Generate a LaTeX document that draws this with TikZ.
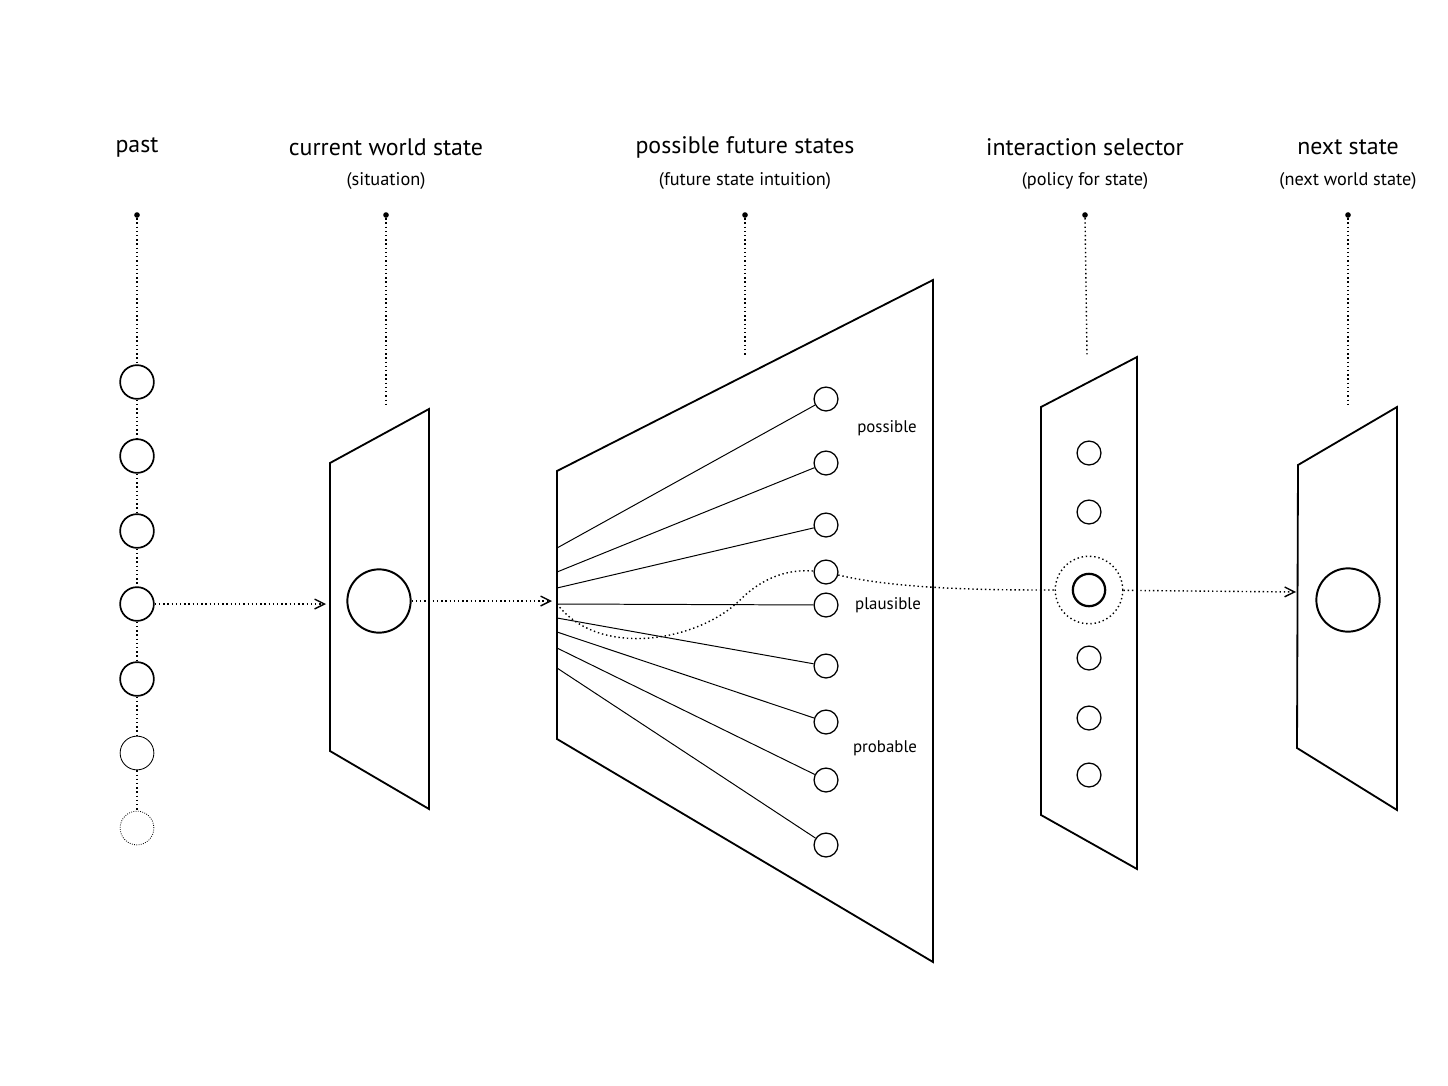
\documentclass[tikz,border=0pt]{standalone}
\usepackage{fontspec}
\setmainfont{PT Sans}
\usetikzlibrary{arrows.meta}
\begin{document}
\begin{tikzpicture}[x=0.025cm,y=-0.025cm,>={Straight Barb[open,length=7pt,width=7pt]},
  ttl/.style={font=\fontsize{17}{19}\selectfont},
  sub/.style={font=\fontsize{13}{15}\selectfont},
  lbl/.style={font=\fontsize{12}{14}\selectfont},
  pt/.style={circle,fill,inner sep=0pt,minimum size=4pt},
  st/.style={circle,draw,line width=1.2pt,inner sep=0pt,minimum size=24pt},
  sm/.style={circle,draw,line width=0.9pt,inner sep=0pt,minimum size=17pt},
  big/.style={circle,draw,line width=1.4pt,inner sep=0pt,minimum size=45pt},
  panel/.style={line width=1.3pt,line join=miter},
  dots/.style={dotted,line width=1pt}]

\useasboundingbox (0,0) rectangle (1448,1086);

% headings
\foreach \name/\x/\t/\s in {pa/137/past/{},cw/386/current world state/(situation),
  fu/745/possible future states/(future state intuition),
  se/1085/interaction selector/(policy for state),ne/1348/next state/(next world state)}
{
  \node[ttl] (\name-t) at (\x,147) {\t};
  \node[sub] (\name-s) at (\x,181) {\s};
  \node[pt] (\name-d) at (\x,215) {};
}

% past
\foreach \i/\y in {1/382,2/456,3/531,4/604,5/679}
  \node[st] (p\i) at (137,\y) {};
\node[st,line width=0.6pt] (p6) at (137,753) {};
\node[st,line width=0.6pt,densely dotted] (p7) at (137,828) {};
\draw[dots] (pa-d) -- (p1);
\foreach \a/\b in {1/2,2/3,3/4,4/5,5/6,6/7}
  \draw[dots] (p\a) -- (p\b);

% current world state
\draw[panel] (330,463) -- (429,409) -- (429,809) -- (330,751) -- cycle;
\node[big] (cur) at (379,601) {};
\coordinate (cw-e) at (386,407);
\draw[dots] (cw-d) -- (cw-e);
\coordinate (in1) at (326,604);
\draw[dots,->] (p4) -- (in1);

% future states
\draw[panel] (557,471) -- (933,280) -- (933,962) -- (557,739) -- cycle;
\coordinate (fu-e) at (745,355);
\draw[dots] (fu-d) -- (fu-e);
\coordinate (in2) at (552,601);
\draw[dots,->] (cur) -- (in2);
\foreach \i/\y in {1/399,2/463,3/525,4/572,5/605,6/666,7/722,8/780,9/845}
  \node[sm] (f\i) at (826,\y) {};
\foreach \i/\y in {1/548,2/572,3/588,5/604,6/618,7/632,8/648,9/668}
{
  \coordinate (o\i) at (557,\y);
  \draw[line width=0.7pt] (o\i) -- (f\i);
}
\node[lbl] (lp1) at (887,428) {possible};
\node[lbl] (lp2) at (888,605) {plausible};
\node[lbl] (lp3) at (885,748) {probable};

% selector
\draw[panel] (1041,407) -- (1137,357) -- (1137,869) -- (1041,815) -- cycle;
\coordinate (se-e) at (1087,355);
\draw[dots] (se-d) -- (se-e);
\foreach \i/\y in {1/453,2/512,4/658,5/718,6/775}
  \node[sm] (s\i) at (1089,\y) {};
\node[circle,draw,line width=1.6pt,inner sep=0pt,minimum size=23pt] (s3) at (1089,590) {};
\node[circle,draw,dots,inner sep=0pt,minimum size=48pt] (sel) at (1089,590) {};
\draw[dots] (o5) .. controls (600,660) and (700,640) .. (740,600)
  .. controls (770,570) and (800,570) .. (f4);
\draw[dots] (f4) .. controls (900,590) and (1000,590) .. (sel);

% next state
\draw[panel] (1298,465) -- (1397,407) -- (1397,810) -- (1297,748) -- cycle;
\coordinate (ne-e) at (1348,407);
\draw[dots] (ne-d) -- (ne-e);
\node[big] (nxt) at (1348,600) {};
\coordinate (in3) at (1296,592);
\draw[dots,->] (sel) -- (in3);
\end{tikzpicture}
\end{document}
